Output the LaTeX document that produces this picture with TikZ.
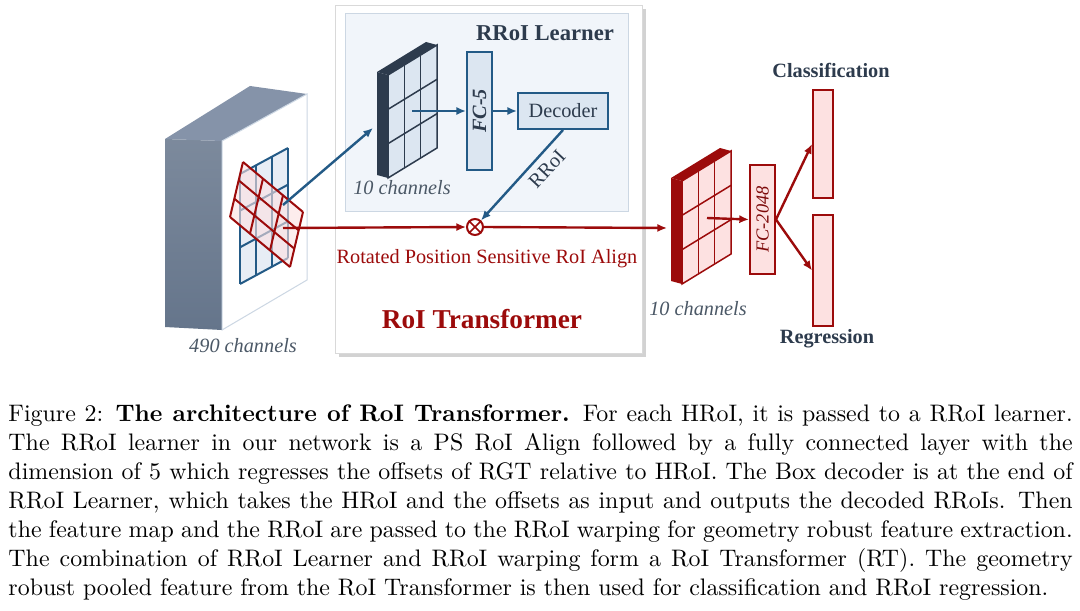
\documentclass[tikz,border=0pt]{standalone}
\usepackage{fontspec}
\usepackage{graphicx}
\usetikzlibrary{arrows.meta,shadows,positioning}
\newfontfamily\timesfont{Liberation Serif}
\newdimen\px
\px=0.4144pt

\definecolor{lineblue}{HTML}{235A86}
\definecolor{darkslate}{HTML}{2D3B4D}
\definecolor{boxblue}{HTML}{DCE6F1}
\definecolor{panelblue}{HTML}{F1F5FA}
\definecolor{paneledge}{HTML}{CCD7E3}
\definecolor{darkred}{HTML}{9C0B0B}
\definecolor{boxpink}{HTML}{FDE1E1}
\definecolor{sidegray}{HTML}{65758B}
\definecolor{topgray}{HTML}{8593A9}
\definecolor{labelgray}{HTML}{4B5866}

\tikzset{
  diag/.style={font=\timesfont\fontsize{8.4}{10}\selectfont},
  chan/.style={font=\timesfont\itshape\fontsize{8.4}{10}\selectfont, text=labelgray},
  head/.style={font=\timesfont\bfseries\fontsize{8.4}{10}\selectfont, text=darkslate},
  fcblue/.style={draw=lineblue, fill=boxblue, line width=2\px, inner sep=0pt},
  fcred/.style={draw=darkred, fill=boxpink, line width=2\px, inner sep=0pt},
  bluearrow/.style={draw=lineblue, line width=2.4\px, -{Latex[length=4pt,width=3.4pt]}},
  redarrow/.style={draw=darkred, line width=2.4\px, -{Latex[length=4pt,width=3.4pt]}},
  pics/featmap/.style 2 args={code={
    \fill[#2] (0,0) -- (-11,-3) -- (-11,100) -- (0,103) -- cycle;
    \fill[#2] (0,0) -- (-11,-3) -- (38,-33) -- (49,-30) -- cycle;
    \draw[#2, fill=#1, line width=1.5\px] (0,0) -- (49,-30) -- (49,73) -- (0,103) -- cycle;
    \foreach \i in {1,2} {
      \draw[#2, line width=1.5\px] ({\i*49/3},{-\i*10}) -- ++(0,103);
      \draw[#2, line width=1.5\px] (0,{\i*103/3}) -- ++(49,-30);
    }
  }}
}

\begin{document}
\begin{tikzpicture}[x=\px, y=-\px]
\fill[white] (0,0) rectangle (1080,611);
\useasboundingbox (0,0) rectangle (1080,611);

% feature map of the image
\shade[top color=sidegray!85!white, bottom color=sidegray] (165,139) -- (222,141) -- (222,330) -- (165,327) -- cycle;
\fill[topgray] (165,139) -- (250,86) -- (307,94) -- (222,141) -- cycle;
\draw[fill=white, draw=paneledge, line width=1\px] (222,141) -- (307,94) -- (307,280) -- (222,330) -- cycle;
\fill[boxblue!70] (240,174) -- (288,148) -- (288,258) -- (240,284) -- cycle;
\foreach \i in {0,...,3} {
  \draw[lineblue, line width=2\px] ({240+16*\i},{174-26*\i/3}) -- ++(0,110);
  \draw[lineblue, line width=2\px] (240,{174+110*\i/3}) -- ++(48,-26);
}
\fill[boxpink, opacity=0.6] (243,162) -- ++(60,50) -- ++(-13,55) -- ++(-60,-50) -- cycle;
\foreach \i in {0,...,3} {
  \draw[darkred, line width=2\px] ({243+20*\i},{162+50*\i/3}) -- ++(-13,55);
  \draw[darkred, line width=2\px] ({243-13*\i/3},{162+55*\i/3}) -- ++(60,50);
}
\node[chan] (c490) at (243,346) {490 channels};
\coordinate (hroi) at (283,205);
\coordinate (rroi) at (283,228);

% RoI Transformer panel
\node[draw=black!15, fill=white, minimum width=307\px, minimum height=348\px,
  drop shadow={shadow xshift=1.5pt, shadow yshift=-1.5pt, fill=black!35}] (panel) at (488.5,179) {};
\node[draw=paneledge, fill=panelblue, line width=1\px, minimum width=283\px, minimum height=198\px] (learner) at (486.5,113) {};
\node[font=\timesfont\bfseries\fontsize{9.4}{11}\selectfont, text=darkslate] (learnertitle) at (545,33) {RRoI Learner};

\pic at (388,75) {featmap={boxblue}{darkslate}};
\node[chan] (c10a) at (402,188) {10 channels};
\coordinate (bluetip) at (373,128);
\coordinate (bluectr) at (412,111);
\coordinate (redtip) at (667,228);
\coordinate (redctr) at (707,218);

\node[fcblue, minimum width=25\px, minimum height=118\px] (fc5) at (479.5,111)
  {\rotatebox{90}{\timesfont\bfseries\itshape\fontsize{8.4}{10}\selectfont\color{darkslate}FC-5}};
\node[fcblue, minimum width=90\px, minimum height=36\px, diag, text=darkslate] (decoder) at (563,111) {Decoder};
\node[circle, draw=darkred, fill=white, line width=2\px, minimum size=16\px, inner sep=0pt] (otimes) at (475,227) {};
\draw[darkred, line width=1.6\px] (otimes.north east) -- (otimes.south west);
\draw[darkred, line width=1.6\px] (otimes.north west) -- (otimes.south east);

\draw[bluearrow] (hroi) -- (bluetip);
\draw[bluearrow] (bluectr) -- (fc5.west);
\draw[bluearrow] (fc5.east) -- (decoder.west);
\draw[bluearrow] (decoder.south) -- (otimes);
\node[diag, text=darkslate, rotate=47, inner sep=1pt] (rroilbl) at (547,169) {RRoI};
\draw[redarrow] (rroi) -- (otimes.west);
\draw[redarrow] (otimes.east) -- (redtip);

\node[diag, text=darkred] (psalign) at (487,259) {Rotated Position Sensitive RoI Align};
\node[font=\timesfont\bfseries\fontsize{11.3}{13}\selectfont, text=darkred] (rtitle) at (482,319) {RoI Transformer};

% head
\pic at (682,181) {featmap={boxpink}{darkred}};
\node[chan] (c10b) at (698,309) {10 channels};
\node[fcred, minimum width=25\px, minimum height=109\px] (fc2048) at (762.5,219.5)
  {\rotatebox{90}{\timesfont\itshape\fontsize{7.6}{9}\selectfont\color{darkred!80!black}FC-2048}};
\node[fcred, minimum width=20\px, minimum height=108\px] (cls) at (823,144) {};
\node[fcred, minimum width=20\px, minimum height=111\px] (reg) at (823,270.5) {};
\node[head] (clslbl) at (831,70) {Classification};
\node[head] (reglbl) at (827,339) {Regression};
\draw[redarrow] (redctr) -- (fc2048.west);
\draw[redarrow] (fc2048.east) -- (cls.west);
\draw[redarrow] (fc2048.east) -- (reg.west);

% caption
\node[anchor=north west, inner sep=0pt, text width=441pt, align=justify, font=\fontsize{9.9}{12.02}\selectfont] (caption) at (8,404.5)
{Figure 2: \textbf{The architecture of RoI Transformer.} For each HRoI, it is passed to a RRoI learner.\linebreak
The RRoI learner in our network is a PS RoI Align followed by a fully connected layer with the\linebreak
dimension of 5 which regresses the offsets of RGT relative to HRoI. The Box decoder is at the end of\linebreak
RRoI Learner, which takes the HRoI and the offsets as input and outputs the decoded RRoIs. Then\linebreak
the feature map and the RRoI are passed to the RRoI warping for geometry robust feature extraction.\linebreak
The combination of RRoI Learner and RRoI warping form a RoI Transformer (RT). The geometry\linebreak
robust pooled feature from the RoI Transformer is then used for classification and RRoI regression.};
\end{tikzpicture}
\end{document}
